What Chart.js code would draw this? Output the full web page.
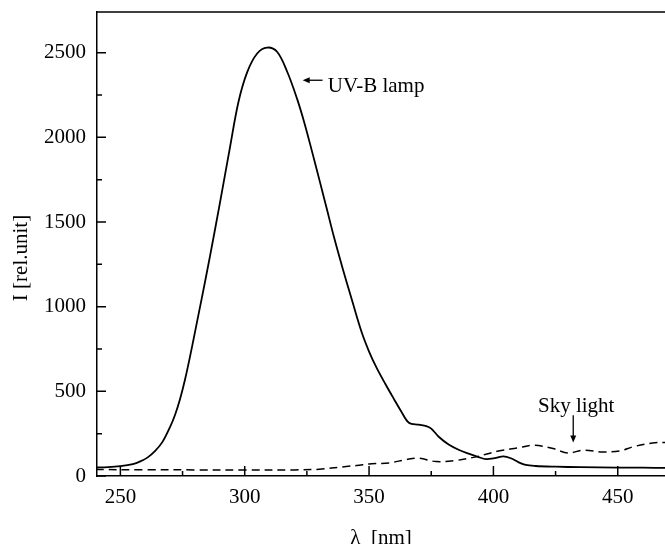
<!DOCTYPE html>
<html>
<head>
<meta charset="utf-8">
<title>UV-B lamp vs sky light spectrum</title>
<script src="https://cdn.jsdelivr.net/npm/chart.js@4"></script>
<style>
    html, body { margin: 0; padding: 0; background: #fff; }
    #wrap { width: 665px; height: 544px; position: relative; }
</style>
</head>
<body>
<div id="wrap"><canvas id="chart-spectrum"></canvas></div>
<script>
// wavelength (nm) / intensity (rel. unit)
const lampNm = [240, 245, 250, 255, 258, 261, 264, 267, 270, 272, 274, 276, 278, 280, 283, 286, 290, 294, 297.5, 301, 305, 309, 313, 317, 321, 324, 327, 330, 333, 336, 339.5, 343, 347, 350, 353, 356.5, 360, 363, 366, 370, 373, 375, 378, 382, 386, 390, 394, 397, 401, 404, 407, 410, 413, 417, 425, 435, 450, 460, 470];
const lampI  = [50, 52, 58, 70, 86, 110, 148, 203, 290, 362, 455, 570, 705, 850, 1070, 1295, 1610, 1935, 2210, 2385, 2495, 2530, 2505, 2390, 2230, 2085, 1920, 1750, 1578, 1405, 1220, 1045, 850, 735, 640, 545, 455, 380, 315, 303, 295, 280, 232, 186, 155, 132, 112, 100, 107, 116, 105, 82, 65, 59, 55, 52, 50, 49, 48];

const skyNm = [240, 260, 280, 300, 320, 330, 340, 345, 351, 358, 365, 370, 377, 385, 392, 397, 402, 410, 416, 424, 430, 436, 444, 451, 456, 464, 470];
const skyI  = [38, 37, 36, 35, 36, 40, 55, 62, 73, 77, 97, 105, 85, 92, 110, 128, 148, 166, 182, 162, 136, 152, 142, 148, 172, 195, 198];

const xTicks = [250, 300, 350, 400, 450];
const xMinor = [275, 325, 375, 425];
const yTicks = [0, 500, 1000, 1500, 2000, 2500];
const yMinor = [250, 750, 1250, 1750, 2250];

const FONT = '"Liberation Serif", "Times New Roman", serif';
Chart.defaults.font.family = FONT;
Chart.defaults.font.size = 21;
Chart.defaults.color = '#000';

// frame top line, inward ticks, y title and the two labels with arrows
const framePlugin = {
    id: 'frame',
    afterDraw: (chart) => {
        const { ctx, chartArea: a, scales: { x, y } } = chart;
        ctx.save();
        ctx.strokeStyle = '#000';
        ctx.lineWidth = 1.5;
        ctx.beginPath();
        ctx.moveTo(a.left, a.top);
        ctx.lineTo(a.right, a.top);
        xTicks.forEach(v => { const p = x.getPixelForValue(v); ctx.moveTo(p, a.bottom); ctx.lineTo(p, a.bottom - 10); });
        xMinor.forEach(v => { const p = x.getPixelForValue(v); ctx.moveTo(p, a.bottom); ctx.lineTo(p, a.bottom - 5); });
        yTicks.forEach(v => { const p = y.getPixelForValue(v); ctx.moveTo(a.left, p); ctx.lineTo(a.left + 9, p); });
        yMinor.forEach(v => { const p = y.getPixelForValue(v); ctx.moveTo(a.left, p); ctx.lineTo(a.left + 5, p); });
        ctx.stroke();

        // y axis title
        ctx.fillStyle = '#000';
        ctx.font = '21px ' + FONT;
        ctx.save();
        ctx.translate(21, 258);
        ctx.rotate(-Math.PI / 2);
        ctx.textAlign = 'center';
        ctx.textBaseline = 'middle';
        ctx.fillText('I [rel.unit]', 0, 0);
        ctx.restore();

        // UV-B lamp label, arrow pointing left to the curve
        const ay = y.getPixelForValue(2337);
        const ax0 = x.getPixelForValue(331.3);
        const ax1 = x.getPixelForValue(323.3);
        ctx.lineWidth = 1.3;
        ctx.beginPath();
        ctx.moveTo(ax0, ay);
        ctx.lineTo(ax1 + 5, ay);
        ctx.stroke();
        ctx.beginPath();
        ctx.moveTo(ax1, ay);
        ctx.lineTo(ax1 + 7, ay - 3);
        ctx.lineTo(ax1 + 7, ay + 3);
        ctx.closePath();
        ctx.fill();
        ctx.textAlign = 'left';
        ctx.textBaseline = 'alphabetic';
        ctx.fillText('UV-B lamp', x.getPixelForValue(333.4), y.getPixelForValue(2270));

        // Sky light label, arrow pointing down
        const sx = x.getPixelForValue(432.1);
        const sy0 = y.getPixelForValue(359);
        const sy1 = y.getPixelForValue(198);
        ctx.beginPath();
        ctx.moveTo(sx, sy0);
        ctx.lineTo(sx, sy1 - 5);
        ctx.stroke();
        ctx.beginPath();
        ctx.moveTo(sx, sy1);
        ctx.lineTo(sx - 3, sy1 - 7);
        ctx.lineTo(sx + 3, sy1 - 7);
        ctx.closePath();
        ctx.fill();
        ctx.textAlign = 'center';
        ctx.fillText('Sky light', x.getPixelForValue(433.3), y.getPixelForValue(377));
        ctx.restore();
    }
};

const ctx = document.getElementById('chart-spectrum');

new Chart(ctx, {
    type: 'line',
    data: {
        datasets: [
            {
                label: 'UV-B lamp',
                data: lampNm.map((v, i) => ({ x: v, y: lampI[i] })),
                borderColor: '#000',
                borderWidth: 1.8,
                pointRadius: 0,
                tension: 0.35,
                fill: false
            },
            {
                label: 'Sky light',
                data: skyNm.map((v, i) => ({ x: v, y: skyI[i] })),
                borderColor: '#000',
                borderWidth: 1.5,
                borderDash: [8, 5],
                pointRadius: 0,
                tension: 0.35,
                fill: false
            }
        ]
    },
    options: {
        responsive: true,
        maintainAspectRatio: false,
        animation: false,
        devicePixelRatio: 1,
        layout: { padding: { top: 12, right: 0, left: 0, bottom: 0 } },
        plugins: {
            legend: { display: false },
            tooltip: { enabled: false }
        },
        scales: {
            x: {
                type: 'linear',
                min: 240.6,
                max: 469,
                grid: { display: false, drawTicks: false },
                border: { display: true, color: '#000', width: 1.5 },
                ticks: { padding: 9, maxRotation: 0, callback: (v) => String(v) },
                afterBuildTicks: (scale) => { scale.ticks = xTicks.map(v => ({ value: v })); },
                afterFit: (scale) => {
                    scale.height = 68;
                    scale.paddingLeft = 0;
                    scale.paddingRight = 0;
                },
                title: {
                    display: true,
                    text: 'λ  [nm]',
                    padding: { top: 0, bottom: -7 }
                }
            },
            y: {
                type: 'linear',
                min: 0,
                max: 2740,
                grid: { display: false, drawTicks: false },
                border: { display: true, color: '#000', width: 1.5 },
                ticks: { padding: 11, callback: (v) => String(v) },
                afterBuildTicks: (scale) => { scale.ticks = yTicks.map(v => ({ value: v })); },
                afterFit: (scale) => {
                    scale.width = 97;
                    scale.paddingTop = 0;
                    scale.paddingBottom = 0;
                }
            }
        }
    },
    plugins: [framePlugin]
});
</script>
</body>
</html>
